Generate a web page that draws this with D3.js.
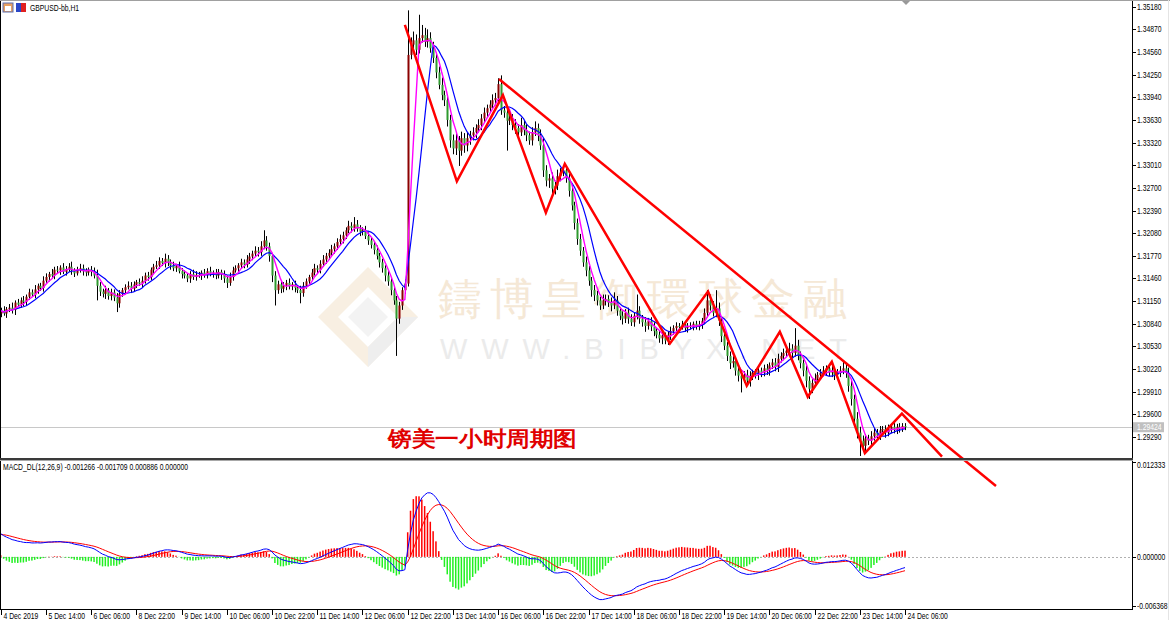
<!DOCTYPE html>
<html>
<head>
<meta charset="utf-8">
<script src="https://cdn.jsdelivr.net/npm/d3@7"></script>
<style>
html,body{margin:0;padding:0;background:#fff;}
svg{display:block;}
text{font-family:"Liberation Sans",Arial,sans-serif;}
</style>
</head>
<body>
<div id="chart"></div>
<script>
// GBPUSD H1 closes, 4 Dec 22:00 -> 24 Dec 06:00
var closes = [
 1.3102,1.3098,1.3104,1.3106,1.3103,1.3113,1.3110,1.3116,1.3114,1.3121,
 1.3127,1.3124,1.3131,1.3136,1.3133,1.3143,1.3148,1.3152,1.3150,1.3158,
 1.3157,1.3161,1.3155,1.3159,1.3162,1.3157,1.3153,1.3158,1.3160,1.3156,
 1.3154,1.3158,1.3155,1.3150,1.3136,1.3128,1.3125,1.3130,1.3122,1.3127,
 1.3120,1.3112,1.3125,1.3130,1.3134,1.3136,1.3132,1.3138,1.3141,1.3139,
 1.3143,1.3150,1.3148,1.3158,1.3162,1.3164,1.3170,1.3167,1.3173,1.3168,
 1.3164,1.3160,1.3163,1.3156,1.3152,1.3150,1.3146,1.3152,1.3148,1.3151,
 1.3150,1.3154,1.3151,1.3156,1.3153,1.3154,1.3150,1.3155,1.3152,1.3146,
 1.3140,1.3148,1.3157,1.3160,1.3164,1.3168,1.3165,1.3172,1.3176,1.3180,
 1.3184,1.3182,1.3190,1.3198,1.3190,1.3177,1.3150,1.3130,1.3138,1.3132,
 1.3136,1.3140,1.3135,1.3138,1.3133,1.3130,1.3126,1.3136,1.3142,1.3148,
 1.3154,1.3160,1.3158,1.3166,1.3172,1.3177,1.3181,1.3186,1.3190,1.3196,
 1.3200,1.3205,1.3212,1.3218,1.3215,1.3220,1.3214,1.3210,1.3212,1.3204,
 1.3198,1.3192,1.3185,1.3177,1.3168,1.3160,1.3150,1.3142,1.3130,1.3116,
 1.3091,1.3109,1.3130,1.3139,1.3452,1.3466,1.3472,1.3459,1.3475,1.3479,
 1.3470,1.3475,1.3461,1.3448,1.3428,1.3411,1.3397,1.3390,1.3363,1.3335,
 1.3324,1.3335,1.3321,1.3338,1.3328,1.3338,1.3342,1.3346,1.3352,1.3356,
 1.3365,1.3373,1.3379,1.3384,1.3390,1.3393,1.3412,1.3376,1.3373,1.3362,
 1.3365,1.3356,1.3352,1.3346,1.3356,1.3349,1.3342,1.3335,1.3346,1.3352,
 1.3342,1.3328,1.3294,1.3280,1.3283,1.3269,1.3273,1.3286,1.3291,1.3294,
 1.3283,1.3266,1.3246,1.3222,1.3200,1.3184,1.3168,1.3157,1.3143,1.3130,
 1.3123,1.3116,1.3109,1.3116,1.3118,1.3113,1.3109,1.3116,1.3102,1.3095,
 1.3091,1.3099,1.3091,1.3086,1.3095,1.3102,1.3091,1.3086,1.3081,1.3088,
 1.3080,1.3074,1.3069,1.3064,1.3068,1.3061,1.3069,1.3074,1.3078,1.3081,
 1.3080,1.3083,1.3078,1.3081,1.3080,1.3084,1.3080,1.3083,1.3088,1.3099,
 1.3116,1.3109,1.3099,1.3105,1.3088,1.3067,1.3054,1.3040,1.3030,1.3033,
 1.3020,1.3013,1.3009,1.3014,1.3006,1.3013,1.3017,1.3014,1.3020,1.3017,
 1.3023,1.3020,1.3027,1.3031,1.3025,1.3036,1.3040,1.3044,1.3047,1.3050,
 1.3044,1.3054,1.3040,1.3030,1.3020,1.3006,1.2995,1.3003,1.3009,1.3014,
 1.3017,1.3020,1.3023,1.3017,1.3020,1.3014,1.3017,1.3020,1.3023,1.3017,
 1.2999,1.2981,1.2954,1.2935,1.2924,1.2917,1.2927,1.2924,1.2930,1.2935,
 1.2931,1.2938,1.2940,1.2935,1.2940,1.2943,1.2939,1.2943,1.2940,1.2944,
 1.29424
];
var firstOpen = 1.3098;
// wick length above / below the body, in pips
var wickUp = [
 4,6,3,5,7,3,5,4,6,3,5,4,6,3,4,6,5,3,7,4,
 5,3,6,4,5,7,3,4,6,5,4,3,5,6,8,5,4,6,3,5,
 4,6,5,3,4,6,5,4,3,5,6,4,5,3,4,6,5,4,7,5,
 4,5,3,6,4,5,3,4,6,5,4,3,5,4,6,3,5,4,3,5,
 4,6,5,4,3,5,4,6,5,4,6,5,7,14,6,5,4,6,5,4,
 5,4,6,3,5,4,6,5,4,3,5,6,4,5,6,4,5,6,4,5,
 6,5,4,7,5,10,6,5,4,6,5,4,5,6,4,5,4,6,5,4,
 6,5,4,6,61,10,12,8,32,14,10,12,8,9,7,8,10,6,8,7,
 8,10,6,9,7,8,6,7,5,8,6,7,5,6,8,7,8,12,6,8,
 7,6,8,5,10,6,8,5,7,9,6,8,10,7,6,8,5,9,6,5,
 7,6,8,5,6,7,5,8,6,5,7,6,5,8,6,5,7,11,6,5,
 6,5,7,6,5,22,6,5,7,4,5,6,4,5,6,4,5,6,4,5,
 4,5,3,4,5,3,4,5,4,6,14,8,6,25,8,6,7,5,6,7,
 5,6,4,5,7,6,4,5,6,4,5,6,4,5,6,7,5,6,4,8,
 6,24,8,6,5,7,6,5,7,4,5,6,4,5,6,4,5,6,11,6,
 7,8,6,9,8,7,6,5,7,6,5,6,4,5,6,4,5,4,5,4,
 4
];
var wickDn = [
 5,3,6,4,5,7,3,4,6,5,4,3,5,6,4,5,3,6,4,5,
 4,6,3,5,4,6,5,3,4,6,5,4,6,4,20,6,5,7,5,6,
 5,12,6,4,5,3,6,4,5,3,6,4,5,4,6,3,5,4,6,5,
 6,4,5,3,6,4,5,6,4,5,3,6,4,5,4,6,5,4,8,6,
 7,4,5,3,6,4,5,4,6,5,4,6,5,4,6,8,9,21,5,6,
 5,6,4,5,6,4,14,5,4,6,5,4,6,5,4,6,5,4,6,5,
 4,6,5,4,6,5,4,6,5,4,6,5,6,5,7,6,8,6,7,6,
 51,7,6,5,4,6,8,7,5,6,7,8,6,7,8,6,7,8,9,10,
 8,9,21,7,10,8,9,7,8,6,7,6,7,5,6,7,5,6,7,41,
 6,7,8,6,5,7,8,6,7,5,8,6,9,8,10,7,8,6,7,5,
 6,8,7,9,8,7,6,8,7,9,8,7,6,5,7,6,8,5,7,6,
 8,6,7,5,6,5,7,6,8,5,6,7,5,6,8,5,6,7,5,6,
 5,4,5,6,4,5,4,5,6,4,6,7,5,6,7,8,6,7,8,6,
 7,8,19,6,7,8,6,5,7,6,5,6,7,5,6,7,5,6,5,6,
 7,5,6,7,8,9,14,6,5,7,6,5,7,5,6,7,5,6,5,7,
 8,9,10,8,21,8,7,6,7,6,5,6,5,7,5,6,5,6,5,4,
 4
];
var priceTicks = [1.35180,1.34870,1.34560,1.34250,1.33940,1.33630,1.33320,1.33010,1.32700,1.32390,
                  1.32080,1.31770,1.31460,1.31150,1.30840,1.30530,1.30220,1.29910,1.29600,1.29290];
var timeLabels = ["4 Dec 2019","5 Dec 14:00","6 Dec 06:00","8 Dec 22:00","9 Dec 14:00","10 Dec 06:00",
                  "10 Dec 22:00","11 Dec 14:00","12 Dec 06:00","12 Dec 22:00","13 Dec 14:00","16 Dec 06:00",
                  "16 Dec 22:00","17 Dec 14:00","18 Dec 06:00","18 Dec 22:00","19 Dec 14:00","20 Dec 06:00",
                  "22 Dec 22:00","23 Dec 14:00","24 Dec 06:00"];
var macdTicks = [0.012333, 0.000000, -0.006368];
var macdSeed = [0.0030, 0.0029]; // DIF, DEA at first bar
var lastPrice = 1.29424;
// hand-drawn red lines: [bar index, price]
var zigzag = [[143.0,1.3493],[161.4,1.3279],[177.7,1.3397],[192.9,1.3236],[199.6,1.3303],[236.8,1.3057],
              [250.3,1.3128],[264.0,1.2999],[275.7,1.3073],[285.6,1.2984],[294.1,1.3032],[305.8,1.2907],
              [318.9,1.2961],[333.1,1.2902]];
var trendLine = [[176.3,1.3419],[352.2,1.2862]];

var W = 1170, H = 620, axisX = 1132, sepY = 458, axisY = 609;
var svg = d3.select("#chart").append("svg").attr("width", W).attr("height", H);

var x = d3.scaleLinear().domain([0, 320]).range([0.8, 905]);
var y = d3.scaleLinear().domain([1.29290, 1.35180]).range([437, 6.7]);
var ym = d3.scaleLinear().domain([-0.006368, 0.012333]).range([606, 461.7]);
var pip = 0.0001;

var bars = closes.map(function(c, i){
	var o = i ? closes[i-1] : firstOpen;
	return {i:i, o:o, c:c, h:Math.max(o,c) + wickUp[i]*pip, l:Math.min(o,c) - wickDn[i]*pip};
});
function sma(n){
	return closes.map(function(c, i){
		return {i:i, v:d3.mean(closes.slice(Math.max(0, i-n+1), i+1))};
	});
}
var e12 = closes[0], e26 = closes[0] - macdSeed[0], dea = macdSeed[1];
var macd = closes.map(function(c, i){
	if(i){ e12 += (c - e12)*2/13; e26 += (c - e26)*2/27; }
	var dif = e12 - e26;
	if(i){ dea += (dif - dea)*2/10; }
	return {i:i, dif:dif, dea:dea, hist:2*(dif - dea)};
});

// small condensed labels like the terminal font
function label(g, px, py, str, size){
	return g.append("text")
		.attr("transform", "translate(" + px + "," + py + ") scale(0.8,1)")
		.attr("font-size", size || 8.5)
		.attr("dy", "0.35em")
		.attr("fill", "#000")
		.text(str);
}

//
// watermark
var wm = svg.append("g");
wm.append("path").attr("d", "M368,267 L418,317 L368,367 L318,317 Z M368,287 L338,317 L368,347 L398,317 Z")
	.attr("fill", "#f8efe2").attr("fill-rule", "evenodd");
wm.append("path").attr("d", "M368,347 L398,317 L418,317 L368,367 Z").attr("fill", "#eeeeee");
wm.append("path").attr("d", "M368,297 L388,317 L368,337 L348,317 Z").attr("fill", "#f3f3f3");
wm.append("text").attr("x", 438).attr("y", 314).attr("font-size", 44)
	.attr("font-family", "'Noto Sans CJK TC','Noto Sans CJK SC',sans-serif")
	.attr("textLength", 409).attr("lengthAdjust", "spacing")
	.attr("fill", "#f5e8d6").text("鑄博皇御環球金融");
wm.append("text").attr("x", 440).attr("y", 359).attr("font-size", 29)
	.attr("textLength", 407).attr("lengthAdjust", "spacing")
	.attr("fill", "#ebebeb").text("WWW.BIBYX.NET");

// bid line
svg.append("line").attr("x1", 0).attr("x2", axisX).attr("y1", Math.round(y(lastPrice)) + 0.5).attr("y2", Math.round(y(lastPrice)) + 0.5)
	.attr("stroke", "#c8c8c8");

// candles
var cg = svg.append("g");
cg.selectAll("line").data(bars).enter().append("line")
	.attr("x1", function(d){ return Math.round(x(d.i)) + 0.5; })
	.attr("x2", function(d){ return Math.round(x(d.i)) + 0.5; })
	.attr("y1", function(d){ return y(d.h); })
	.attr("y2", function(d){ return y(d.l); })
	.attr("stroke", "#000").attr("stroke-width", 1);
cg.selectAll("rect").data(bars).enter().append("rect")
	.attr("x", function(d){ return Math.round(x(d.i)) - 0.5; })
	.attr("width", 2)
	.attr("y", function(d){ return y(Math.max(d.o, d.c)); })
	.attr("height", function(d){ return Math.max(1, Math.abs(y(d.o) - y(d.c))); })
	.attr("fill", function(d){ return d.c >= d.o ? "#8b0000" : "#2e9a2e"; });

// moving averages
var line = d3.line().x(function(d){ return x(d.i); }).y(function(d){ return y(d.v); });
svg.append("path").datum(sma(10)).attr("d", line).attr("fill", "none").attr("stroke", "#0000ff").attr("stroke-width", 1.2);
svg.append("path").datum(sma(5)).attr("d", line).attr("fill", "none").attr("stroke", "#ff00ff").attr("stroke-width", 1.4);

// red drawings
var pline = d3.line().x(function(d){ return x(d[0]); }).y(function(d){ return y(d[1]); });
svg.append("path").datum(zigzag).attr("d", pline).attr("fill", "none").attr("stroke", "#ff0000").attr("stroke-width", 2.5).attr("stroke-linejoin", "miter");
svg.append("path").datum(trendLine).attr("d", pline).attr("fill", "none").attr("stroke", "#ff0000").attr("stroke-width", 2.5);

// caption
svg.append("text").attr("x", 388).attr("y", 446).attr("font-size", 21).attr("font-weight", "bold")
	.attr("font-family", "'Noto Serif CJK SC','Noto Sans CJK SC',serif")
	.attr("textLength", 189).attr("lengthAdjust", "spacingAndGlyphs")
	.attr("fill", "#e00000").text("镑美一小时周期图");

// MACD
var mg = svg.append("g");
mg.append("line").attr("x1", 0).attr("x2", axisX).attr("y1", Math.round(ym(0)) + 0.5).attr("y2", Math.round(ym(0)) + 0.5)
	.attr("stroke", "#b0b0b0").attr("stroke-dasharray", "2,2");
mg.selectAll("rect").data(macd).enter().append("rect")
	.attr("x", function(d){ return x(d.i) - 0.75; })
	.attr("width", 1.5)
	.attr("y", function(d){ return Math.min(ym(0), ym(d.hist)); })
	.attr("height", function(d){ return Math.abs(ym(d.hist) - ym(0)); })
	.attr("fill", function(d){ return d.hist >= 0 ? "#ff0000" : "#22f022"; });
var mline = function(key){ return d3.line().x(function(d){ return x(d.i); }).y(function(d){ return ym(d[key]); }); };
mg.append("path").datum(macd).attr("d", mline("dea")).attr("fill", "none").attr("stroke", "#ff0000").attr("stroke-width", 1);
mg.append("path").datum(macd).attr("d", mline("dif")).attr("fill", "none").attr("stroke", "#0000ff").attr("stroke-width", 1);

// frame
svg.append("rect").attr("x", 0.5).attr("y", 0.5).attr("width", axisX).attr("height", axisY).attr("fill", "none").attr("stroke", "#000");
svg.append("line").attr("x1", 0).attr("x2", W).attr("y1", 0.5).attr("y2", 0.5).attr("stroke", "#a0a0a0");
svg.append("rect").attr("x", 0).attr("y", sepY).attr("width", axisX + 1).attr("height", 2).attr("fill", "#3a3a3a");
svg.append("rect").attr("x", 0).attr("y", sepY + 2).attr("width", axisX + 1).attr("height", 1).attr("fill", "#a8a8a8");
svg.append("line").attr("x1", 1168.5).attr("x2", 1168.5).attr("y1", 0).attr("y2", H).attr("stroke", "#e4e4e4");
svg.append("path").attr("d", "M902,1 L910,1 L906,5 Z").attr("fill", "#999");

// right axis
var ra = svg.append("g");
priceTicks.forEach(function(p){
	var py = Math.round(y(p)) + 0.5;
	ra.append("line").attr("x1", axisX).attr("x2", axisX + 4).attr("y1", py).attr("y2", py).attr("stroke", "#000");
	label(ra, axisX + 5, py, p.toFixed(5));
});
ra.append("rect").attr("x", axisX + 1).attr("y", y(lastPrice) - 5).attr("width", 31).attr("height", 10).attr("fill", "#c0c0c0");
label(ra, axisX + 5, y(lastPrice), lastPrice.toFixed(5)).attr("fill", "#fff");
macdTicks.forEach(function(v){
	var py = Math.round(ym(v)) + 0.5;
	ra.append("line").attr("x1", axisX).attr("x2", axisX + 4).attr("y1", py).attr("y2", py).attr("stroke", "#000");
	label(ra, axisX + 5, py + (v === macdTicks[0] ? 3 : 0), v.toFixed(6));
});

// bottom axis
var ba = svg.append("g");
timeLabels.forEach(function(t, k){
	var px = Math.round(x(k*16)) + 0.5;
	ba.append("line").attr("x1", px).attr("x2", px).attr("y1", axisY).attr("y2", axisY + 6).attr("stroke", "#000");
	label(ba, px + 2, axisY + 7, t);
});

// header texts
svg.append("rect").attr("x", 3).attr("y", 3).attr("width", 10).attr("height", 9).attr("fill", "#e8a060").attr("stroke", "#5a6fb0");
svg.append("rect").attr("x", 5).attr("y", 6).attr("width", 6).attr("height", 5).attr("fill", "#fff");
svg.append("rect").attr("x", 16).attr("y", 3).attr("width", 5).attr("height", 9).attr("fill", "#2a48c8");
svg.append("rect").attr("x", 21).attr("y", 3).attr("width", 5).attr("height", 9).attr("fill", "#e02020");
label(svg, 30, 8, "GBPUSD-bb,H1");
label(svg, 3, 467, "MACD_DL(12,26,9) -0.001266 -0.001709 0.000886 0.000000");
</script>
</body>
</html>
